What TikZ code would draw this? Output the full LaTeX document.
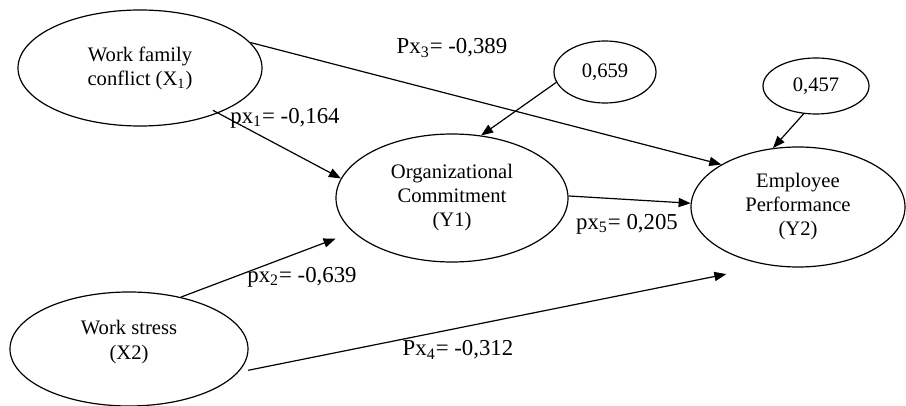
\documentclass[tikz,border=0pt]{standalone}
\usepackage{fontspec}
\setmainfont{Liberation Serif}
\usetikzlibrary{shapes.geometric,arrows.meta}
\begin{document}
\begin{tikzpicture}[x=0.5pt,y=-0.5pt,
  line width=0.6pt,
  ell/.style={draw, ellipse, inner sep=0pt, align=center,
    font=\fontsize{10.3}{12}\selectfont},
  coef/.style={inner sep=0pt, font=\fontsize{11.4}{13}\selectfont},
  path/.style={-{Triangle[length=6pt,width=4.6pt]}},
]
\useasboundingbox (0,0) rectangle (906,406);

% latent variables
\node[ell, minimum width=122pt, minimum height=58pt] (x1) at (140,68)
  {Work family\\conflict (X\textsubscript{1})};
\node[ell, minimum width=119pt, minimum height=57pt,
  label={[align=center, inner sep=0pt, yshift=3.5pt,
          font=\fontsize{10.3}{12.5}\selectfont]center:Work stress\\(X2)}]
  (x2) at (129,349) {};
\node[ell, minimum width=116pt, minimum height=64pt] (y1) at (452,198)
  {Organizational\\Commitment\\(Y1)};
\node[ell, minimum width=107pt, minimum height=60pt] (y2) at (798,207)
  {Employee\\Performance\\(Y2)};

% residual terms
\node[ell, minimum width=51pt, minimum height=31pt] (e1) at (605,72) {0,659};
\node[ell, minimum width=53pt, minimum height=28pt] (e2) at (816,86) {0,457};

% paths
\draw[path, shorten <=-3pt] (x1.-30) -- (y1.170);
\draw[path] (x1.13) -- (y2.151);
\draw[path, shorten >=9.3pt] (x2.45) -- (y1.-161);
\draw[path, shorten <=5pt, shorten >=22pt] (x2.-12) -- (y2.-116);
\draw[path] (y1.1) -- (y2.178);
\draw[path] (e1.-168) -- (y1.65);
\draw[path] (e2.-114) -- (y2.113);

% path coefficients
\node[coef] (l3) at (452,48) {Px\textsubscript{3}= -0,389};
\node[coef] (l1) at (285,118) {px\textsubscript{1}= -0,164};
\node[coef] (l5) at (627,224) {px\textsubscript{5}= 0,205};
\node[coef] (l2) at (302,277) {px\textsubscript{2}= -0,639};
\node[coef] (l4) at (458,350) {Px\textsubscript{4}= -0,312};
\end{tikzpicture}
\end{document}
